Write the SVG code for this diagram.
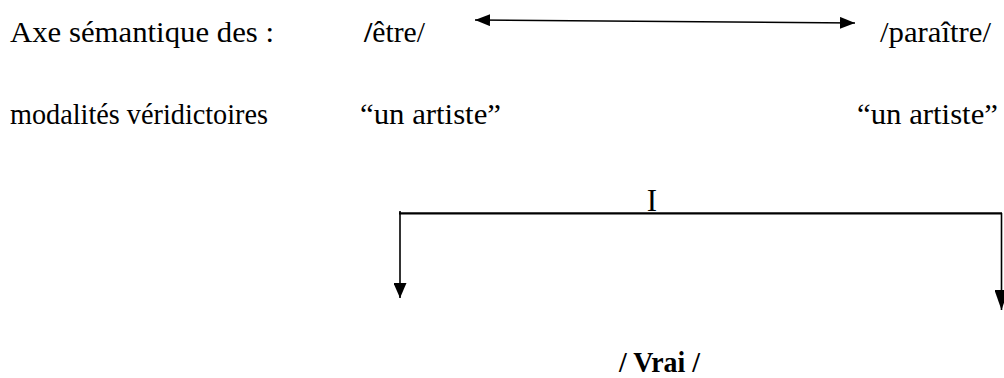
<svg xmlns="http://www.w3.org/2000/svg" width="1004" height="378" viewBox="0 0 1004 378">
<style>
text{font-family:"Liberation Serif","Times New Roman",serif;font-size:29px;fill:#000}
.b{font-weight:bold}
.ln{stroke:#000;fill:none}
</style>
<defs>
<marker id="ah" viewBox="0 0 15 12" refX="15" refY="6" markerWidth="15" markerHeight="12" markerUnits="userSpaceOnUse" orient="auto-start-reverse">
<path d="M0,0 L15,6 L0,12 Z" fill="#000"/>
</marker>
<marker id="ad" viewBox="0 0 15 13" refX="15" refY="6.5" markerWidth="15" markerHeight="13" markerUnits="userSpaceOnUse" orient="auto">
<path d="M0,0 L15,6.5 L0,13 Z" fill="#000"/>
</marker>
<marker id="ad2" viewBox="0 0 20 14" refX="20" refY="7" markerWidth="20" markerHeight="14" markerUnits="userSpaceOnUse" orient="auto">
<path d="M0,0 L20,7 L0,14 Z" fill="#000"/>
</marker>
</defs>
<g id="label-axe">
<text x="10" y="42" textLength="264" lengthAdjust="spacingAndGlyphs">Axe sémantique des :</text>
<text x="10" y="124" textLength="258" lengthAdjust="spacingAndGlyphs">modalités véridictoires</text>
</g>
<g id="node-etre">
<text x="364" y="42" textLength="61" lengthAdjust="spacingAndGlyphs"><tspan class="b">/</tspan>être/</text>
<text x="360" y="124" textLength="141" lengthAdjust="spacingAndGlyphs">“un artiste”</text>
</g>
<g id="node-paraitre">
<text x="880" y="42" textLength="111" lengthAdjust="spacingAndGlyphs">/paraître/</text>
<text x="857" y="124" textLength="141" lengthAdjust="spacingAndGlyphs">“un artiste”</text>
</g>
<g id="node-I">
<text x="652" y="211" text-anchor="middle" style="font-size:31px">I</text>
</g>
<g id="node-vrai">
<text class="b" x="619" y="372" textLength="81" lengthAdjust="spacingAndGlyphs" style="font-size:30px">/ Vrai /</text>
</g>
<g id="connectors">
<line class="ln" x1="475" y1="20" x2="855" y2="23" stroke-width="1.6" marker-start="url(#ah)" marker-end="url(#ah)"/>
<line class="ln" x1="399" y1="213.3" x2="1002" y2="213.3" stroke-width="2.2"/>
<line class="ln" x1="400" y1="211" x2="400" y2="298" stroke-width="1.6" marker-end="url(#ad)"/>
<line class="ln" x1="1001.5" y1="213" x2="1001.5" y2="310" stroke-width="1.6" marker-end="url(#ad2)"/>
</g>
</svg>
